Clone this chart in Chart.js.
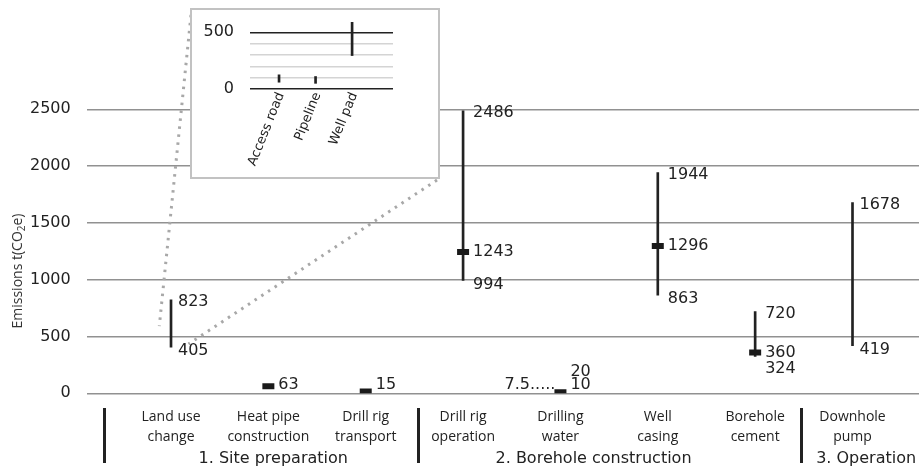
<!DOCTYPE html>
<html><head><meta charset="utf-8">
<script src="https://cdn.jsdelivr.net/npm/chart.js@4/dist/chart.umd.min.js"></script>
<style>
html,body{margin:0;padding:0;background:#fff;}
#wrap{position:relative;width:919px;height:472px;overflow:hidden;}
#main{position:absolute;left:0;top:0;}
#insetBox{position:absolute;left:190px;top:8px;width:250px;height:171px;border:2px solid #c2c2c2;box-sizing:border-box;background:#fff;}
#inset{position:absolute;left:0;top:0;}
</style></head><body>
<div id="wrap">
<canvas id="main" width="919" height="472"></canvas>
<div id="insetBox"><canvas id="inset" width="246" height="167"></canvas></div>
</div>
<script>
// ---- data ----
const categories = ['Land use\nchange', 'Heat pipe\nconstruction', 'Drill rig\ntransport', 'Drill rig\noperation', 'Drilling\nwater', 'Well\ncasing', 'Borehole\ncement', 'Downhole\npump'];
const lowValues  = [405, null, null, 994, 7.5, 863, 324, 419];
const midValues  = [null, 63, 15, 1243, 10, 1296, 360, null];
const highValues = [823, null, null, 2486, 20, 1944, 720, 1678];
const groups = ['1. Site preparation', '2. Borehole construction', '3. Operation'];
const yTicks = [0, 500, 1000, 1500, 2000, 2500];
const yTitle = ['Emissions t(CO', '2', 'e)'];
const insetCategories = ['Access road', 'Pipeline', 'Well pad'];
const insetLow  = [60, 50, 295];
const insetHigh = [125, 110, 588];
const insetGridTicks = [0, 100, 200, 300, 400, 500];
const insetTicks = [0, 500];

const INK = '#222';
const NUMFONT = '16px "DejaVu Sans"';

// ---- plugins ----
const valueLabels = {
  id: 'valueLabels',
  afterDatasetsDraw(chart) {
    const {ctx, scales: {x, y}, chartArea} = chart;
    ctx.save();
    ctx.font = NUMFONT;
    ctx.fillStyle = INK;
    ctx.textBaseline = 'middle';
    const floor = chartArea.bottom - 8;
    categories.forEach((c, i) => {
      const px = x.getPixelForValue(i);
      const lo = lowValues[i], mid = midValues[i], hi = highValues[i];
      const tx = px + (mid != null ? 10 : 7);
      let yMid = null;
      ctx.textAlign = 'left';
      if (mid != null) {
        yMid = Math.min(y.getPixelForValue(mid), floor);
        ctx.fillText(String(mid), tx, yMid);
      }
      if (hi != null) {
        let yy = Math.min(y.getPixelForValue(hi) + 2, floor);
        if (yMid != null && yMid - yy < 14) yy = yMid - 13;
        ctx.fillText(String(hi), tx, yy);
      }
      if (lo != null) {
        let yy = Math.min(y.getPixelForValue(lo) + 4, floor);
        if (yMid != null && Math.abs(yy - yMid) < 16) {
          if (yMid + 16 > floor) {
            ctx.textAlign = 'right';
            ctx.fillText(String(lo) + '.....', px - 5, yMid);
            return;
          }
          yy = yMid + 16;
        }
        ctx.fillText(String(lo), tx, yy);
      }
    });
    ctx.restore();
  }
};

const decorations = {
  id: 'decorations',
  beforeDatasetsDraw(chart, args, opts) {
    const {ctx, scales: {x, y}} = chart;
    ctx.save();
    ctx.strokeStyle = '#a8a8a8';
    ctx.lineWidth = 3;
    ctx.setLineDash([2.5, 5.5]);
    opts.connectors.forEach(cn => {
      ctx.beginPath();
      ctx.moveTo(cn.from[0], cn.from[1]);
      ctx.lineTo(x.getPixelForValue(cn.to[0]), y.getPixelForValue(cn.to[1]));
      ctx.stroke();
    });
    ctx.restore();
  },
  afterDraw(chart, args, opts) {
    const {ctx, scales: {x}} = chart;
    ctx.save();
    ctx.strokeStyle = INK;
    ctx.lineWidth = 3;
    opts.separators.forEach(v => {
      const px = Math.round(x.getPixelForValue(v)) + 0.5;
      ctx.beginPath();
      ctx.moveTo(px, opts.sepTop);
      ctx.lineTo(px, opts.sepBottom);
      ctx.stroke();
    });
    ctx.font = NUMFONT;
    ctx.fillStyle = INK;
    ctx.textAlign = 'center';
    ctx.textBaseline = 'middle';
    groups.forEach((g, k) => ctx.fillText(g, x.getPixelForValue(opts.anchors[k]), opts.labelY));
    ctx.translate(opts.titleX, opts.titleY);
    ctx.rotate(-Math.PI / 2);
    const big = '14px "Open Sans"', small = '10px "Open Sans"';
    ctx.font = big; const w0 = ctx.measureText(yTitle[0]).width;
    ctx.font = small; const w1 = ctx.measureText(yTitle[1]).width;
    ctx.font = big; const w2 = ctx.measureText(yTitle[2]).width;
    let sx = -(w0 + w1 + w2) / 2;
    ctx.textAlign = 'left';
    ctx.textBaseline = 'alphabetic';
    ctx.fillStyle = '#333';
    ctx.font = big; ctx.fillText(yTitle[0], sx, 5); sx += w0;
    ctx.font = small; ctx.fillText(yTitle[1], sx, 8); sx += w1;
    ctx.font = big; ctx.fillText(yTitle[2], sx, 5);
    ctx.restore();
  }
};

const insetLabels = {
  id: 'insetLabels',
  afterDraw(chart, args, opts) {
    const {ctx, scales: {x}, chartArea} = chart;
    ctx.save();
    ctx.font = '13px "DejaVu Sans"';
    ctx.fillStyle = INK;
    ctx.textAlign = 'right';
    ctx.textBaseline = 'middle';
    insetCategories.forEach((c, i) => {
      ctx.save();
      ctx.translate(x.getPixelForValue(i) + opts.dx, chartArea.bottom + opts.dy);
      ctx.rotate(-opts.angle * Math.PI / 180);
      ctx.fillText(c, 0, 0);
      ctx.restore();
    });
    ctx.restore();
  }
};

const noPad = s => { s.paddingLeft = 0; s.paddingRight = 0; s.paddingTop = 0; s.paddingBottom = 0; };

// ---- main chart ----
const rangeData = categories.map((c, i) => lowValues[i] != null ? {x: i, y: [lowValues[i], highValues[i]]} : null).filter(d => d);
const markerData = categories.map((c, i) => midValues[i] != null ? {x: i, y: midValues[i]} : null).filter(d => d);

new Chart(document.getElementById('main'), {
  type: 'bar',
  data: {
    datasets: [
      {type: 'scatter', data: markerData, pointStyle: 'line', radius: 6, hoverRadius: 6, borderWidth: 6, hoverBorderWidth: 6, borderColor: '#1a1a1a', backgroundColor: '#1a1a1a'},
      {type: 'bar', data: rangeData, backgroundColor: INK, borderWidth: 0, barThickness: 2}
    ]
  },
  options: {
    responsive: false, animation: false, devicePixelRatio: 1,
    layout: {autoPadding: false, padding: {top: 109.3, right: 0, left: 0, bottom: 0}},
    plugins: {
      legend: {display: false}, tooltip: {enabled: false},
      decorations: {
        separators: [-0.687, 2.54, 6.47], sepTop: 408, sepBottom: 463,
        anchors: [1.05, 4.34, 7.14], labelY: 459,
        titleX: 16.5, titleY: 271,
        connectors: [{from: [191, 15], to: [-0.12, 592]}, {from: [437, 180], to: [0.18, 434]}]
      }
    },
    scales: {
      x: {
        type: 'linear', min: -0.866, max: 7.683, offset: false,
        grid: {display: false, offset: false}, border: {display: false},
        afterBuildTicks: s => { s.ticks = categories.map((c, i) => ({value: i})); },
        ticks: {autoSkip: false, maxRotation: 0, minRotation: 0, padding: 6, color: INK,
          font: {family: 'Open Sans', size: 14, lineHeight: '20px'},
          callback: v => categories[v] ? categories[v].split('\n') : ''},
        afterFit: s => { s.height = 78.7; noPad(s); }
      },
      y: {
        min: 0, max: 2500,
        border: {display: false},
        grid: {color: '#919191', lineWidth: 1.4, drawTicks: false},
        afterBuildTicks: s => { s.ticks = yTicks.map(v => ({value: v})); },
        ticks: {autoSkip: false, padding: 16, color: INK, font: {family: 'DejaVu Sans', size: 16}, callback: v => String(v)},
        afterFit: s => { s.width = 86.7; noPad(s); }
      }
    }
  },
  plugins: [valueLabels, decorations]
});

// ---- inset chart ----
new Chart(document.getElementById('inset'), {
  type: 'bar',
  data: {
    datasets: [{data: insetCategories.map((c, i) => ({x: i, y: [insetLow[i], insetHigh[i]]})), backgroundColor: INK, borderWidth: 0, barThickness: 2, clip: false}]
  },
  options: {
    responsive: false, animation: false, devicePixelRatio: 1,
    layout: {autoPadding: false, padding: {top: 22.3, right: 45, left: 0, bottom: 0}},
    plugins: {legend: {display: false}, tooltip: {enabled: false}, insetLabels: {dx: 2, dy: 4, angle: 68}},
    scales: {
      x: {
        type: 'linear', min: -0.795, max: 3.12, offset: false,
        grid: {display: false, offset: false}, border: {display: false},
        afterBuildTicks: s => { s.ticks = insetCategories.map((c, i) => ({value: i})); },
        ticks: {display: false},
        afterFit: s => { s.height = 88; noPad(s); }
      },
      y: {
        min: 0, max: 500,
        border: {display: false},
        afterBuildTicks: s => { s.ticks = insetGridTicks.map(v => ({value: v})); },
        grid: {drawTicks: false, lineWidth: 1.5, color: c => insetTicks.includes(c.tick.value) ? INK : '#d4d4d4'},
        ticks: {autoSkip: false, padding: 16, color: INK, font: {family: 'DejaVu Sans', size: 16},
          callback: v => insetTicks.includes(v) ? String(v) : ''},
        afterFit: s => { s.width = 58; noPad(s); }
      }
    }
  },
  plugins: [insetLabels]
});
</script>
</body></html>
